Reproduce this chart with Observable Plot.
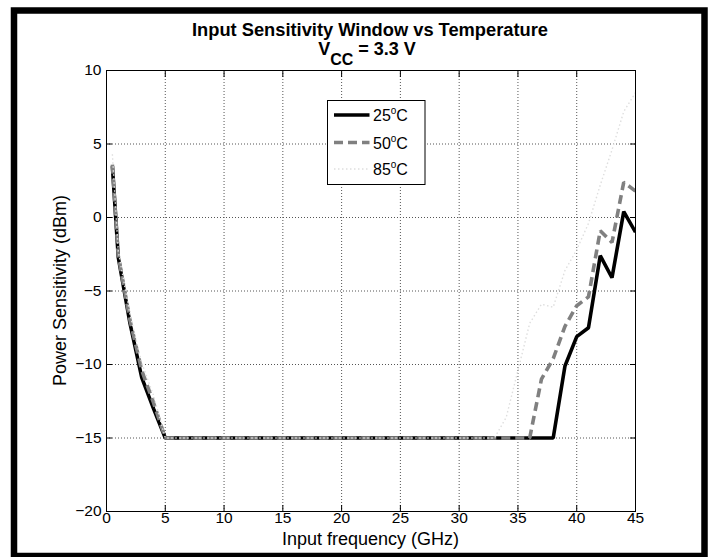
<!DOCTYPE html>
<html>
<head>
<meta charset="utf-8">
<script src="https://cdn.jsdelivr.net/npm/d3@7"></script>
<script src="https://cdn.jsdelivr.net/npm/@observablehq/plot@0.6"></script>
<style>
  html, body { margin: 0; padding: 0; background: #fff; }
  #wrap { position: relative; width: 712px; height: 557px; overflow: hidden; font-family: 'Liberation Sans', Arial, Helvetica, sans-serif; }
  #wrap > svg { position: absolute; left: 0; top: 0; }
</style>
</head>
<body>
<div id="wrap"></div>
<script>
// ---- data ----
const xTicks = [0, 5, 10, 15, 20, 25, 30, 35, 40, 45];
const yTicks = [-20, -15, -10, -5, 0, 5, 10];

const freq25 = [0.5, 1, 2, 3, 4, 5, 38, 39, 40, 41, 42, 43, 44, 45];
const sens25 = [3.5, -2.7, -7.2, -10.9, -13.0, -15, -15, -10.1, -8.1, -7.5, -2.6, -4.1, 0.4, -1.0];

const freq50 = [0.5, 1, 2, 3, 4, 5, 36, 37, 38, 39, 40, 41, 42, 43, 44, 45];
const sens50 = [3.6, -2.6, -7.0, -10.4, -12.6, -15, -15, -11.0, -9.6, -7.4, -6.0, -5.4, -0.9, -1.7, 2.4, 1.8];

const freq85 = [0.5, 1, 2, 3, 4, 5, 33, 34, 35, 36, 37, 38, 39, 40, 41, 42, 43, 44, 45];
const sens85 = [4.3, -2.3, -6.6, -9.9, -12.1, -15, -15, -13.6, -10.4, -7.2, -5.9, -6.1, -3.6, -2.2, -0.4, 2.2, 4.6, 7.2, 8.5];

const seriesLabels = ["25", "50", "85"];

const toRows = (fs, ps) => fs.map((f, i) => ({f, p: ps[i]}));
const rows25 = toRows(freq25, sens25);
const rows50 = toRows(freq50, sens50);
const rows85 = toRows(freq85, sens85);

const W = 712, H = 557;
const gridStyle = {stroke: "#555", strokeOpacity: 1, strokeWidth: 1, strokeDasharray: "1,2"};
const dotColor = "#dedede";

const chart = Plot.plot({
  width: W,
  height: H,
  marginLeft: 106,
  marginRight: 77,
  marginTop: 70,
  marginBottom: 46,
  style: {fontFamily: "'Liberation Sans', Arial, Helvetica, sans-serif", fontSize: "15px", color: "black", background: "transparent", overflow: "visible"},
  x: {domain: [0, 45], ticks: xTicks, label: null},
  y: {domain: [-20, 10], ticks: yTicks, label: null},
  marks: [
    Plot.gridX(xTicks, gridStyle),
    Plot.gridY(yTicks, gridStyle),
    // tick labels
    Plot.axisX(xTicks, {anchor: "bottom", tickSize: 0, tickPadding: 0, label: null, fontSize: 15.5}),
    Plot.axisY(yTicks, {anchor: "left", tickSize: 0, tickPadding: 5, label: null, fontSize: 15.5}),
    // inward tick marks on all four sides
    Plot.axisX(xTicks, {anchor: "bottom", tickSize: 6, dy: -6, tickFormat: () => "", label: null}),
    Plot.axisX(xTicks, {anchor: "top", tickSize: 6, dy: 6, tickFormat: () => "", label: null}),
    Plot.axisY(yTicks, {anchor: "left", tickSize: 6, dx: 6, tickFormat: () => "", label: null}),
    Plot.axisY(yTicks, {anchor: "right", tickSize: 6, dx: -6, tickFormat: () => "", label: null}),
    // data series
    Plot.line(rows25, {x: "f", y: "p", stroke: "black", strokeWidth: 3.6, strokeLinejoin: "miter", strokeLinecap: "butt", clip: true}),
    Plot.line(rows50, {x: "f", y: "p", stroke: "#808080", strokeWidth: 3.6, strokeDasharray: "9,5", strokeLinejoin: "miter", strokeLinecap: "butt", clip: true}),
    Plot.line(rows85, {x: "f", y: "p", stroke: dotColor, strokeWidth: 1.4, strokeDasharray: "1.5,2.5", strokeLinecap: "butt", clip: true}),
    Plot.frame({stroke: "black", strokeWidth: 1})
  ]
});
document.getElementById("wrap").appendChild(chart);

// ---- overlay: title, axis labels, legend, outer border ----
const ns = "http://www.w3.org/2000/svg";
const ov = document.createElementNS(ns, "svg");
ov.setAttribute("width", W);
ov.setAttribute("height", H);
ov.style.fontFamily = "'Liberation Sans', Arial, Helvetica, sans-serif";
ov.innerHTML = `
  <rect x="14" y="10.5" width="690.5" height="545.5" fill="none" stroke="black" stroke-width="6.5"/>
  <text x="370" y="36" text-anchor="middle" font-weight="bold" font-size="18.3">Input Sensitivity Window vs Temperature</text>
  <text x="367" y="54.5" text-anchor="middle" font-weight="bold" font-size="18">V<tspan dy="10" font-size="16">CC</tspan><tspan dy="-10"> = 3.3 V</tspan></text>
  <text x="370.5" y="545" text-anchor="middle" font-size="18">Input frequency (GHz)</text>
  <text transform="translate(66,290.5) rotate(-90)" text-anchor="middle" font-size="18">Power Sensitivity (dBm)</text>
  <g>
    <rect x="327.5" y="100.5" width="97.5" height="84" fill="white" stroke="black" stroke-width="1"/>
    <line x1="334" x2="369.5" y1="115" y2="115" stroke="black" stroke-width="3.6"/>
    <line x1="334" x2="369.5" y1="142.5" y2="142.5" stroke="#808080" stroke-width="3.6" stroke-dasharray="9,5"/>
    <line x1="334" x2="369.5" y1="169" y2="169" stroke="${dotColor}" stroke-width="1.4" stroke-dasharray="1.5,2.5"/>
    ${seriesLabels.map((s, i) => `<text x="373" y="${[121, 148.5, 175][i]}" font-size="16">${s}<tspan dy="-7" font-size="10">o</tspan><tspan dy="7">C</tspan></text>`).join("")}
  </g>
`;
document.getElementById("wrap").appendChild(ov);
</script>
</body>
</html>
